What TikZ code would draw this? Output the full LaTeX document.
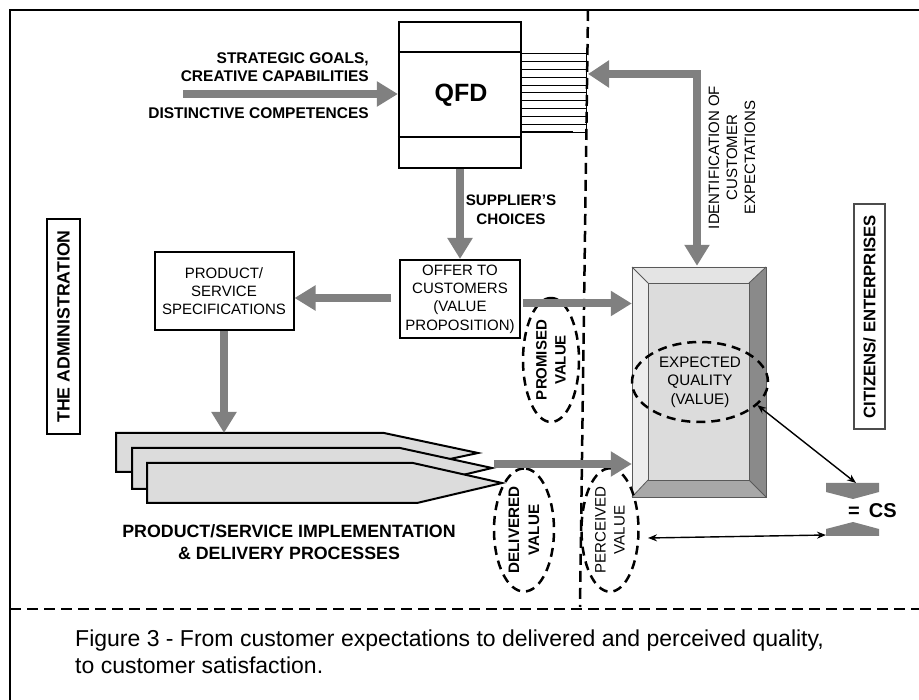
\documentclass[tikz,border=0pt]{standalone}
\usepackage{fontspec}
\setmainfont{Liberation Sans}
\usetikzlibrary{arrows.meta,shapes.geometric,calc}
\definecolor{arrgray}{HTML}{808080}
\definecolor{facelight}{HTML}{E4E4E4}
\definecolor{faceleft}{HTML}{EDEDED}
\definecolor{faceright}{HTML}{8A8A8A}
\definecolor{facebottom}{HTML}{A8A8A8}
\definecolor{faceinner}{HTML}{DCDCDC}
\definecolor{procfill}{HTML}{DCDCDC}
\tikzset{
  garrow/.style={draw=arrgray, line width=8pt, -{Triangle[length=21pt,width=24pt]}},
  bk/.style={draw=black, line width=1.4pt, {Stealth[length=9pt,width=7pt]}-{Stealth[length=9pt,width=7pt]}},
  plainbox/.style={draw, line width=2pt, align=center, inner sep=0pt, font=\fontsize{15}{18.3}\selectfont},
  dell/.style={ellipse, draw, line width=2.5pt, dash pattern=on 9pt off 6pt, inner sep=0pt, align=center},
  boldlbl/.style={font=\fontsize{15.5}{18}\selectfont\bfseries, inner sep=0pt},
  procshape/.style={draw, line width=2pt, fill=procfill, line join=miter},
  divider/.style={line width=2.5pt, dash pattern=on 11pt off 6pt},
}
\begin{document}
\begin{tikzpicture}[x=1pt,y=-1pt]
\useasboundingbox (0,0) rectangle (919,700);
% frame
\draw[line width=2.5pt] (10,700) -- (10,10) -- (919,10);
\draw[divider] (10,609) -- (919,609);
% QFD
\node[draw, line width=2.2pt, minimum width=122pt, minimum height=146pt, inner sep=0pt] (qfd) at (460,95) {};
\draw[line width=2.2pt] (qfd.west |- 0,52) -- (qfd.east |- 0,52);
\draw[line width=2.2pt] (qfd.west |- 0,137) -- (qfd.east |- 0,137);
\node[font=\fontsize{25}{27}\selectfont\bfseries] (qfdlbl) at (461,95) {QFD};
% hatched matrix
\foreach \yy in {53.8,61.6,69.4,77.2,85.0,92.8,100.6,108.4,116.2,124.0} {
  \draw[line width=0.8pt] (521,\yy) -- (586,\yy);
}
\draw[line width=0.8pt] (586,53.8) -- (586,132);
\draw[line width=0.8pt] (521,132) -- (586,132);
\draw[line width=2pt] (521,132) -- (573,132);
% vertical divider
\draw[divider] (588,10) -- (580,607);
% strategic input
\coordinate (stratstart) at (183,94);
\draw[garrow] (stratstart) -- (qfd.west |- stratstart);
\node[boldlbl, anchor=east, align=right] (strat) at (369,67) {STRATEGIC GOALS,\\CREATIVE CAPABILITIES};
\node[boldlbl, anchor=east] (dist) at (369,113) {DISTINCTIVE COMPETENCES};
% offer box
\node[plainbox, minimum width=120pt, minimum height=78pt] (offer) at (460,299) {OFFER TO\\CUSTOMERS\\(VALUE\\PROPOSITION)};
\draw[garrow] (qfd.south) -- (offer.north);
\node[align=center, inner sep=0pt, font=\fontsize{15.2}{19}\selectfont\bfseries] (supp) at (511,209.5) {SUPPLIER'S\\CHOICES};
% PSS box
\node[plainbox, minimum width=139pt, minimum height=78pt] (pss) at (224,291) {PRODUCT/\\SERVICE\\SPECIFICATIONS};
\coordinate (pa) at ($(offer.west)+(-8,-1)$);
\draw[garrow] (pa) -- (pa -| pss.east);
% promised value ellipse (under arrow)
\node[dell, rotate=90, minimum width=124pt, minimum height=56pt, font=\fontsize{15}{19}\selectfont\bfseries] (prom) at (551,360) {PROMISED\\VALUE};
% EQ box bevel
\node[minimum width=134pt, minimum height=230pt, inner sep=0pt] (eqbox) at (699,382) {};
\fill[facelight] (632,267) -- (766,267) -- (749,283) -- (648,283) -- cycle;
\fill[faceleft] (632,267) -- (648,283) -- (648,480) -- (632,497) -- cycle;
\fill[faceright] (766,267) -- (766,497) -- (749,480) -- (749,283) -- cycle;
\fill[facebottom] (632,497) -- (766,497) -- (749,480) -- (648,480) -- cycle;
\fill[faceinner] (648,283) rectangle (749,480);
\draw[line width=0.8pt, draw=black!65] (632,267) rectangle (766,497);
\draw[line width=0.8pt, draw=black!65] (648,283) rectangle (749,480);
\draw[line width=0.8pt, draw=black!65] (632,267) -- (648,283) (766,267) -- (749,283) (632,497) -- (648,480) (766,497) -- (749,480);
\node[dell, minimum width=136pt, minimum height=80pt, font=\fontsize{15.2}{18.5}\selectfont] (eqell) at (700,382) {EXPECTED\\QUALITY\\(VALUE)};
% offer -> EQ
\coordinate (oa) at ($(offer.east)+(2,4.5)$);
\draw[garrow] (oa) -- (oa -| eqbox.west);
% identification arrow
\coordinate (idtip) at (588,74);
\coordinate (idcorner) at (697,74);
\coordinate (eqtop) at ($(eqbox.north)+(-2,-1)$);
\draw[garrow, line join=miter, {Triangle[length=21pt,width=26pt]}-{Triangle[length=21pt,width=24pt]}] (idtip) -- (idcorner) -- (eqtop);
\node[rotate=90, align=center, inner sep=0pt, font=\fontsize{15}{18}\selectfont] (idtext) at (732,157.5) {IDENTIFICATION OF\\CUSTOMER\\EXPECTATIONS};
% processes
\draw[procshape] (116,433) -- (384,433) -- (478,453) -- (389,472) -- (116,472) -- cycle;
\draw[procshape] (132,448) -- (400,448) -- (492,468) -- (404,489) -- (132,489) -- cycle;
\draw[procshape] (147,463) -- (413,463) -- (502,483) -- (417,503) -- (147,503) -- cycle;
\coordinate (proctop) at (224,433);
\draw[garrow] (pss.south) -- (proctop);
\node[align=center, inner sep=0pt, font=\fontsize{17.8}{21.5}\selectfont\bfseries] (proclbl) at (289,542) {PRODUCT/SERVICE IMPLEMENTATION\\\& DELIVERY PROCESSES};
% delivered / perceived
\node[dell, rotate=90, minimum width=118pt, minimum height=60pt, font=\fontsize{15.2}{20}\selectfont\bfseries] (deliv) at (524,530) {DELIVERED\\VALUE};
\node[dell, rotate=90, minimum width=118pt, minimum height=57pt, font=\fontsize{15.1}{19}\selectfont] (perc) at (610,530) {PERCEIVED\\VALUE};
\coordinate (proctip) at (494,464);
\draw[garrow] (proctip) -- (proctip -| eqbox.west);
% CS
\fill[arrgray] (826,483) -- (879,483) -- (879,492) -- (853,499) -- (826,492) -- cycle;
\fill[arrgray] (826,536) -- (879,536) -- (879,529) -- (853,522) -- (826,529) -- cycle;
\coordinate (csup) at (856,483);
\coordinate (cslow) at (826,535);
\node[anchor=west, inner sep=0pt, font=\fontsize{20}{22}\selectfont\bfseries] (cs) at (848,511) {=\hspace{9pt}CS};
\draw[bk] (eqell.-22) -- (csup);
\coordinate (pvend) at (648,538);
\draw[bk] (pvend) -- (cslow);
% side labels
\node[draw, line width=2pt, rotate=90, minimum width=215pt, minimum height=33pt, inner sep=0pt, font=\fontsize{17.7}{20}\selectfont\bfseries] (admin) at (63.5,326.5) {THE ADMINISTRATION};
\node[draw=black!70, line width=1.2pt, rotate=90, minimum width=225pt, minimum height=31pt, inner sep=0pt, font=\fontsize{16.7}{20}\selectfont\bfseries] (citizens) at (869.5,316.5) {CITIZENS/ ENTERPRISES};
% caption
\node[anchor=west, align=left, inner sep=0pt, font=\fontsize{23}{27}\selectfont] (caption) at (75,651.5) {Figure 3 - From customer expectations to delivered and perceived quality,\\to customer satisfaction.};
\end{tikzpicture}
\end{document}
